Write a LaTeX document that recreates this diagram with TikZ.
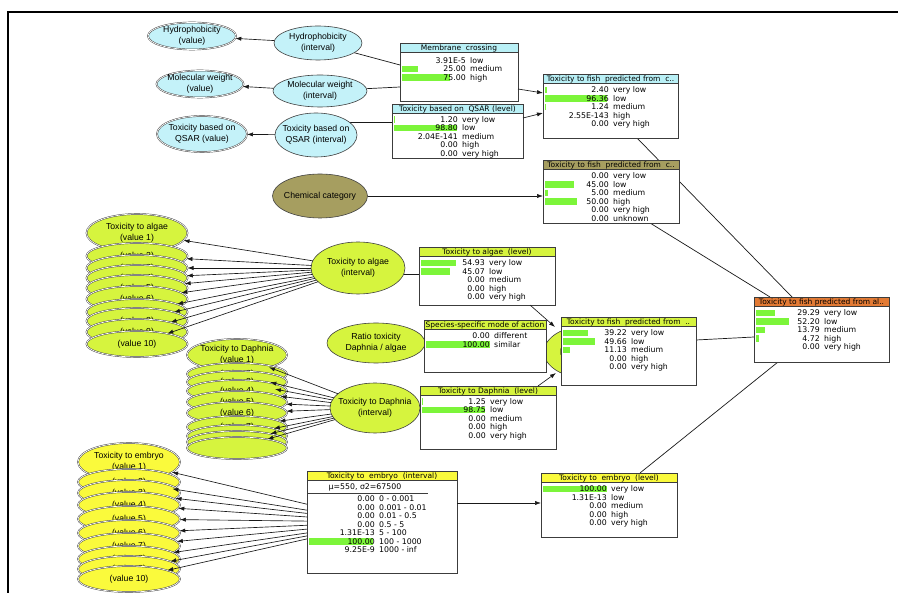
\documentclass[tikz,border=0pt]{standalone}
\usepackage{fontspec}
\setmainfont{Liberation Sans}
\newfontfamily\boxfont{DejaVu Sans}
\usetikzlibrary{shapes.geometric,arrows.meta,calc}
\pgfdeclarelayer{back}
\pgfdeclarelayer{bg}
\pgfsetlayers{back,bg,main}
\definecolor{cyanE}{RGB}{196,242,249}
\definecolor{cyanT}{RGB}{185,240,246}
\definecolor{oliveC}{RGB}{166,158,96}
\definecolor{ygC}{RGB}{214,244,62}
\definecolor{yelC}{RGB}{250,250,60}
\definecolor{orC}{RGB}{226,122,52}
\definecolor{barC}{RGB}{124,245,58}
\definecolor{lineC}{RGB}{60,60,60}
\tikzset{
  ell/.style={ellipse, draw=black!75, line width=0.6pt, inner sep=0pt, outer sep=0pt},
  dbl/.style={ell, double=white, double distance=0.7pt, line width=0.45pt},
  etext/.style={font=\fontsize{8.7}{11}\selectfont, align=center, inner sep=0pt, text=black},
  rtext/.style={font=\boxfont\fontsize{7.8}{8.5}\selectfont, inner sep=0pt},
  ttext/.style={font=\boxfont\fontsize{7.5}{8}\selectfont, inner sep=0pt},
  boxnode/.style={rectangle, fill=white, inner sep=0pt, outer sep=0pt},
  boxline/.style={draw=lineC, line width=0.7pt},
  conn/.style={draw=black!90, line width=0.7pt},
  arr/.style={draw=black!90, line width=0.65pt, -{Latex[length=6pt,width=4.2pt]}}
}
\newcommand\numcol{66}
% #1 name #2 x #3 y #4 w #5 h #6 title colour #7 title #8 first row offset #9 rows
\newcommand\nbox[9]{%
  \node[boxnode, minimum width=#4pt, minimum height=#5pt, anchor=north west] (#1) at (#2,#3) {};
  \fill[#6] (#2,#3) rectangle (#2+#4,#3+9.5);
  \begin{scope}
    \clip (#2,#3) rectangle (#2+#4,#3+9.5);
    \node[ttext, anchor=base] at (#2+#4/2,#3+7.6) {#7};
  \end{scope}
  \foreach \bv/\nv/\lv [count=\iv] in {#9} {
    \pgfmathsetmacro\yy{#3+#8+(\iv-1)*8.5}
    \ifdim\bv pt>0pt \fill[barC] (#2+2,\yy-3.2) rectangle (#2+2+\bv*0.64,\yy+3.2);\fi
    \node[rtext, anchor=base east] at (#2+\numcol,\yy+2.8) {\nv};
    \node[rtext, anchor=base west] at (#2+\numcol+4,\yy+2.8) {\lv};
  }
  \draw[boxline] (#2,#3+9.5) -- (#2+#4,#3+9.5);
  \draw[boxline] (#2,#3) rectangle (#2+#4,#3+#5);
}
\begin{document}
\begin{tikzpicture}[x=1pt,y=-1pt]
\useasboundingbox (0,0) rectangle (898,593);
\begin{pgfonlayer}{back}
\fill[white] (0,0) rectangle (898,593);
\end{pgfonlayer}
\draw[line width=2.5pt] (8,593) -- (8,12) -- (898,12);

% cyan nodes
\node[dbl, fill=cyanE, minimum width=88pt, minimum height=27pt, label={[etext]center:Hydrophobicity\\(value)}] (hydval) at (192,36) {};
\node[ell, fill=cyanE, minimum width=88pt, minimum height=34pt, label={[etext]center:Hydrophobicity\\(interval)}] (hydint) at (318,43) {};
\node[dbl, fill=cyanE, minimum width=87pt, minimum height=27pt, label={[etext]center:Molecular weight\\(value)}] (mwval) at (200,84) {};
\node[ell, fill=cyanE, minimum width=94pt, minimum height=32pt, label={[etext]center:Molecular weight\\(interval)}] (mwint) at (320,91) {};
\node[dbl, fill=cyanE, minimum width=90pt, minimum height=36pt, label={[etext]center:Toxicity based on\\QSAR (value)}] (qsarval) at (202,134) {};
\node[ell, fill=cyanE, minimum width=82pt, minimum height=44pt, label={[etext]center:Toxicity based on\\QSAR (interval)}] (qsarint) at (316,135) {};
\node[ell, fill=oliveC, minimum width=95pt, minimum height=44pt, label={[etext]center:Chemical category}] (chemcat) at (320,196) {};

\nbox{membrane}{400}{43}{118}{58}{cyanT}{Membrane\ \ crossing}{17.5}{0/3.91E-5/low, 25/25.00/medium, 75/75.00/high}
\nbox{qsarlvl}{392}{104}{131}{54}{cyanT}{Toxicity based on\ \ QSAR (level)}{15.5}{1.2/1.20/very low, 98.8/98.80/low, 0/2.04E-141/medium, 0/0.00/high, 0/0.00/very high}
\nbox{fishA}{543}{74}{135}{64}{cyanT}{Toxicity to fish\ \ predicted from\ \ c..}{16}{2.4/2.40/very low, 96.36/96.36/low, 1.24/1.24/medium, 0/2.55E-143/high, 0/0.00/very high}
\nbox{fishB}{543}{160}{136}{63}{oliveC}{Toxicity to fish\ \ predicted from\ \ c..}{16}{0/0.00/very low, 45/45.00/low, 5/5.00/medium, 50/50.00/high, 0/0.00/very high, 0/0.00/unknown}

% algae stack
\node[dbl, fill=ygC, minimum width=101pt, minimum height=38pt, label={[etext]center:Toxicity to algae\\(value 1)}] (av1) at (137,233) {};
\foreach \k/\vy in {2/256,3/268,4/278,5/288,6/299,7/312,8/321,9/332,10/344} {
  \node[dbl, fill=ygC, minimum width=101pt, minimum height=26pt, label={[etext]center:(value \k)}] (av\k) at (137,\vy) {};
}
\node[ell, fill=ygC, minimum width=94pt, minimum height=52pt, label={[etext]center:Toxicity to algae\\(interval)}] (algint) at (358,268) {};
\nbox{alglvl}{419}{247}{136}{58}{ygC}{Toxicity to algae\ \ (level)}{16}{54.93/54.93/very low, 45.07/45.07/low, 0/0.00/medium, 0/0.00/high, 0/0.00/very high}

\node[ell, fill=ygC, minimum width=98pt, minimum height=40pt, label={[etext]center:Ratio toxicity\\Daphnia / algae}] (ratio) at (376,343) {};
\node[ell, fill=ygC, minimum width=88pt, minimum height=53pt] (fishmode) at (588,352) {};
\begin{scope}
  \clip (540,318) rectangle (561,388);
  \node[etext] (fishmodetext) at (588,346) {Toxicity to fish\\predicted from};
\end{scope}
\nbox{species}{424}{320}{122}{52}{ygC}{Species-specific mode of action}{16}{0/0.00/different, 100/100.00/similar}

% daphnia stack
\node[dbl, fill=ygC, minimum width=100pt, minimum height=32pt, label={[etext]center:Toxicity to Daphnia\\(value 1)}] (dv1) at (237,355) {};
\foreach \k/\vy in {2/374,3/382,4/391,5/402,6/413,7/427} {
  \node[dbl, fill=ygC, minimum width=100pt, minimum height=22pt, label={[etext]center:(value \k)}] (dv\k) at (237,\vy) {};
}
\foreach \k/\vy in {8/436,9/442,10/448} {
  \node[dbl, fill=ygC, minimum width=100pt, minimum height=22pt] (dv\k) at (237,\vy) {};
}
\node[ell, fill=ygC, minimum width=90pt, minimum height=50pt, label={[etext]center:Toxicity to Daphnia\\(interval)}] (daphint) at (375,408) {};
\nbox{daphlvl}{420}{386}{136}{63}{ygC}{Toxicity to Daphnia\ \ (level)}{15.5}{1.25/1.25/very low, 98.75/98.75/low, 0/0.00/medium, 0/0.00/high, 0/0.00/very high}
\nbox{fishC}{561}{317}{135}{68}{ygC}{Toxicity to fish\ \ predicted from\ \ ..}{16}{39.22/39.22/very low, 49.66/49.66/low, 11.13/11.13/medium, 0/0.00/high, 0/0.00/very high}
\nbox{final}{754}{297}{135}{65}{orC}{Toxicity to fish predicted from al..}{16}{29.29/29.29/very low, 52.2/52.20/low, 13.79/13.79/medium, 4.72/4.72/high, 0/0.00/very high}

% embryo stack
\node[dbl, fill=yelC, minimum width=102pt, minimum height=38pt, label={[etext]center:Toxicity to embryo\\(value 1)}] (ev1) at (129,462) {};
\foreach \k/\vy in {2/482,3/493,4/505,5/519,6/533,7/546,8/559,9/569,10/579} {
  \node[dbl, fill=yelC, minimum width=102pt, minimum height=26pt, label={[etext]center:(value \k)}] (ev\k) at (129,\vy) {};
}
\nbox{emblvl}{541}{473}{136}{64}{yelC}{Toxicity to\ \ embryo\ \ (level)}{16}{100/100.00/very low, 0/1.31E-13/low, 0/0.00/medium, 0/0.00/high, 0/0.00/very high}
\renewcommand\numcol{68}
\nbox{embint}{307}{471}{150}{102}{yelC}{Toxicity to\ \ embryo\ \ (interval)}{28}{0/0.00/0 - 0.001, 0/0.00/0.001 - 0.01, 0/0.00/0.01 - 0.5, 0/0.00/0.5 - 5, 0/1.31E-13/5 - 100, 100/100.00/100 - 1000, 0/9.25E-9/1000 - inf}
\node[rtext, anchor=base] (embmu) at (365,489.5) {μ=550, σ2=67500};
\draw[boxline] (embint.west |- 0,493) -- (428,493);

% plain connectors (behind the boxes)
\begin{pgfonlayer}{bg}
\draw[conn] (hydint) -- ($(membrane.north west)+(0,22)$);
\draw[conn] (mwint) -- ($(membrane.north west)+(0,44)$);
\draw[conn] (qsarint.20) -- (qsarint.20 -| qsarlvl.west);
\draw[conn] (algint.-8) -- (algint.-8 -| alglvl.west);
\draw[conn] ($(fishA.south east)+(-41,0)$) -- ($(final.north west)+(38,0)$);
\draw[conn] ($(fishB.south west)+(107,0)$) -- ($(final.north west)+(16,0)$);
\draw[conn] ($(fishC.north east)+(0,23)$) -- ($(final.north west)+(0,40)$);
\draw[conn] ($(emblvl.north west)+(99,0)$) -- ($(final.south west)+(24,0)$);
\end{pgfonlayer}

% arrows
\draw[arr] (hydint) -- (hydval);
\draw[arr] (mwint) -- (mwval);
\draw[arr] (qsarint) -- (qsarval);
\draw[arr] ($(membrane.north east)+(0,46)$) -- ($(fishA.north west)+(0,19)$);
\draw[arr] ($(qsarlvl.north east)+(0,14)$) -- ($(fishA.north west)+(0,39)$);
\draw[arr] (chemcat) -- (chemcat -| fishB.west);
\draw[arr] ($(alglvl.south east)+(-25,0)$) -- ($(fishmode.center)+(-33,-25)$);
\draw[arr] ($(daphlvl.north east)+(-18,0)$) -- ($(fishmode.center)+(-32,21)$);
\draw[arr] ($(embint.north east)+(0,32)$) -- ($(emblvl.north west)+(0,30)$);
\foreach \k in {1,...,10} {
  \draw[arr] (algint) -- (av\k);
  \draw[arr] (daphint) -- (dv\k);
  \draw[arr] (embint) -- (ev\k);
}
\end{tikzpicture}
\end{document}
